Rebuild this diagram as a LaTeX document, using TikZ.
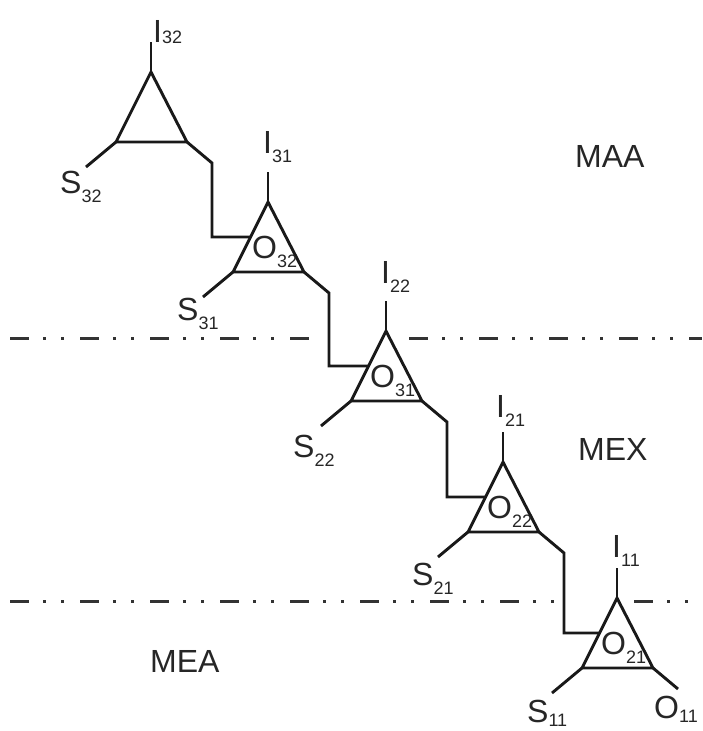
\documentclass[tikz,border=0pt]{standalone}
\usepackage{fontspec}
\setmainfont{Liberation Sans}
\usetikzlibrary{calc}

% letter with a lowered index
\newcommand{\sublab}[3][9pt]{#2\raisebox{-#1}{\fontsize{18}{18}\selectfont #3}}

\begin{document}
\begin{tikzpicture}[x=1pt, y=-1pt,
		link/.style={line width=2.9pt, line join=miter, color=black!90},
		border/.style={line width=3pt, color=black!80,
			dash pattern=on 19pt off 14pt on 3pt off 15pt on 3pt off 16pt},
		lbl/.style={inner sep=0pt, anchor=base west, text=black!85,
			font=\fontsize{32}{32}\selectfont}
		]
		\useasboundingbox (0,0) rectangle (702,731);
		% apexes of the five triangles
		\coordinate (a32) at (151,72);
		\coordinate (a31) at (268,202);
		\coordinate (a22) at (386,331);
		\coordinate (a21) at (503,462);
		\coordinate (a11) at (617,598);
		\foreach \t in {32,31,22,21,11}{
			\coordinate (l\t) at ($(a\t)+(-35,70)$);
			\coordinate (r\t) at ($(a\t)+(36,70)$);
			\coordinate (i\t) at ($(a\t)+(0,-30)$);
			\coordinate (s\t) at ($(l\t)+(-30,25)$);
			\coordinate (k\t) at ($(r\t)+(25,21)$);
			\coordinate (m\t) at ($(a\t)!0.5!(l\t)$);
			\draw[link] (a\t) -- (l\t) -- (r\t) -- cycle;
			\draw[link] (a\t) -- (i\t);
			\draw[link] (l\t) -- (s\t);
		}
		% chain from one triangle to the next
		\draw[link] (r32) -- (k32) |- (m31);
		\draw[link] (r31) -- (k31) |- (m22);
		\draw[link] (r22) -- (k22) |- (m21);
		\draw[link] (r21) -- (k21) |- (m11);
		\draw[link] (r11) -- (k11);

		% region borders
		\coordinate (ua) at (10,338);
		\coordinate (ub) at (317,338);
		\coordinate (uc) at (409,338);
		\coordinate (ud) at (702,338);
		\coordinate (da) at (10,601);
		\coordinate (db) at (556,601);
		\coordinate (dc) at (634,601);
		\coordinate (dd) at (702,601);
		\draw[border] (ua) -- (ub);
		\draw[border] (uc) -- (ud);
		\draw[border] (da) -- (db);
		\draw[border] (dc) -- (dd);

		% inputs
		\node[lbl] (I32) at (153,42) {\sublab[1pt]{I}{32}};
		\node[lbl] (I31) at (263,153) {\sublab{I}{31}};
		\node[lbl] (I22) at (381,283) {\sublab{I}{22}};
		\node[lbl] (I21) at (496,417) {\sublab{I}{21}};
		\node[lbl] (I11) at (612,557) {\sublab{I}{11}};
		% side outputs
		\node[lbl] (S32) at (60,193) {\sublab{S}{32}};
		\node[lbl] (S31) at (177,320) {\sublab{S}{31}};
		\node[lbl] (S22) at (293,457) {\sublab{S}{22}};
		\node[lbl] (S21) at (412,585) {\sublab{S}{21}};
		\node[lbl] (S11) at (527,722) {\sublab[4pt]{S}{11}};
		% outputs passed on
		\node[lbl] (O32) at ($(a31)+(-16,56)$) {\sublab{O}{32}};
		\node[lbl] (O31) at ($(a22)+(-16,56)$) {\sublab{O}{31}};
		\node[lbl] (O22) at ($(a21)+(-16,56)$) {\sublab{O}{22}};
		\node[lbl] (O21) at ($(a11)+(-16,56)$) {\sublab{O}{21}};
		\node[lbl] (O11) at (654,718) {\sublab[4pt]{O}{11}};
		% regions
		\node[lbl] (MAA) at (575,167) {MAA};
		\node[lbl] (MEX) at (578,460) {MEX};
		\node[lbl] (MEA) at (150,672) {MEA};
	\end{tikzpicture}
\end{document}
